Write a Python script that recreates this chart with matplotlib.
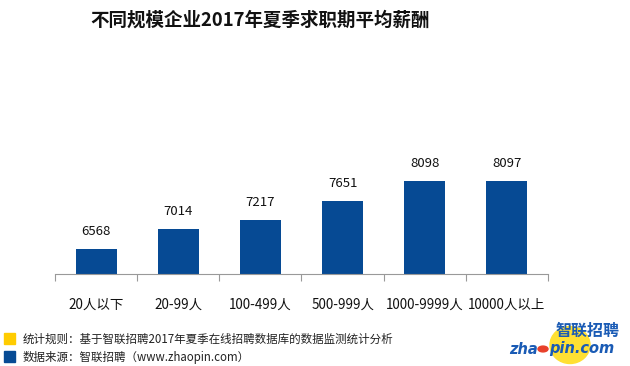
import matplotlib.pyplot as plt
from matplotlib.patches import Rectangle, Ellipse, Circle

plt.rcParams['font.family'] = ['Noto Sans CJK SC', 'DejaVu Sans']

categories = ['20人以下', '20-99人', '100-499人', '500-999人', '1000-9999人', '10000人以上']
salary = [6568, 7014, 7217, 7651, 8098, 8097]

title = '不同规模企业2017年夏季求职期平均薪酬'
note_rule = '统计规则：基于智联招聘2017年夏季在线招聘数据库的数据监测统计分析'
note_source = '数据来源：智联招聘（www.zhaopin.com）'

bar_color = '#064A94'

fig = plt.figure(figsize=(6.3, 3.66), dpi=100)
W, H = 630, 366

# plot area in pixels: left 55, right 548, baseline y=274, top y=141
ax = fig.add_axes([55 / W, (H - 274) / H, (548 - 55) / W, (274 - 141) / H])
x = range(len(categories))
ax.bar(x, salary, width=0.5, color=bar_color)
ax.set_xlim(-0.5, len(categories) - 0.5)
ax.set_ylim(6000, 9000)

for xi, v in zip(x, salary):
    ax.annotate(str(v), (xi, v), xytext=(0, 8), textcoords='offset points',
                ha='center', va='bottom', fontsize=9.5, color='#111111')

for s in ['top', 'right', 'left']:
    ax.spines[s].set_visible(False)
ax.spines['bottom'].set_color('#999999')
ax.set_yticks([])
ax.set_xticks([i - 0.5 for i in range(len(categories) + 1)], minor=False)
ax.set_xticklabels([])
ax.tick_params(axis='x', length=5, color='#999999', direction='out')
ax.set_xticks(list(x), minor=True)
ax.set_xticklabels(categories, minor=True, fontsize=9.7, color='#111111')
ax.tick_params(axis='x', which='minor', length=0, pad=17)

fig.text(260 / W, 1 - 20 / H, title, ha='center', va='center',
         fontsize=13.3, fontweight='bold', color='#111111')

# footer notes
fig.add_artist(Rectangle((4 / W, 1 - 344 / H), 11 / W, 11 / H,
                         transform=fig.transFigure, color='#FFCC00'))
fig.add_artist(Rectangle((4 / W, 1 - 362 / H), 11 / W, 11 / H,
                         transform=fig.transFigure, color=bar_color))
fig.text(23 / W, 1 - 339 / H, note_rule, ha='left', va='center', fontsize=8.3, color='#222222')
fig.text(23 / W, 1 - 358 / H, note_source, ha='left', va='center', fontsize=8.3, color='#222222')

# logo
fig.add_artist(Ellipse((570 / W, 1 - 345 / H), 40 / W, 37 / H,
                       transform=fig.transFigure, color='#FFE033', zorder=1))
fig.text(588 / W, 1 - 331 / H, '智联招聘', ha='center', va='center', fontsize=11.5,
         fontweight='bold', color='#1A5BB5', zorder=3)
fig.text(509 / W, 1 - 349 / H, 'zha', ha='left', va='center', fontsize=10.5,
         fontweight='bold', style='italic', color='#1A5BB5', family='DejaVu Sans', zorder=3)
fig.add_artist(Circle((543 / W, 1 - 349 / H), 5 / W, transform=fig.transFigure,
                      color='#E8402A', zorder=3))
fig.text(549 / W, 1 - 349 / H, 'pin.com', ha='left', va='center', fontsize=10.5,
         fontweight='bold', style='italic', color='#1A5BB5', family='DejaVu Sans', zorder=3)

fig.savefig('out.png', dpi=100)
